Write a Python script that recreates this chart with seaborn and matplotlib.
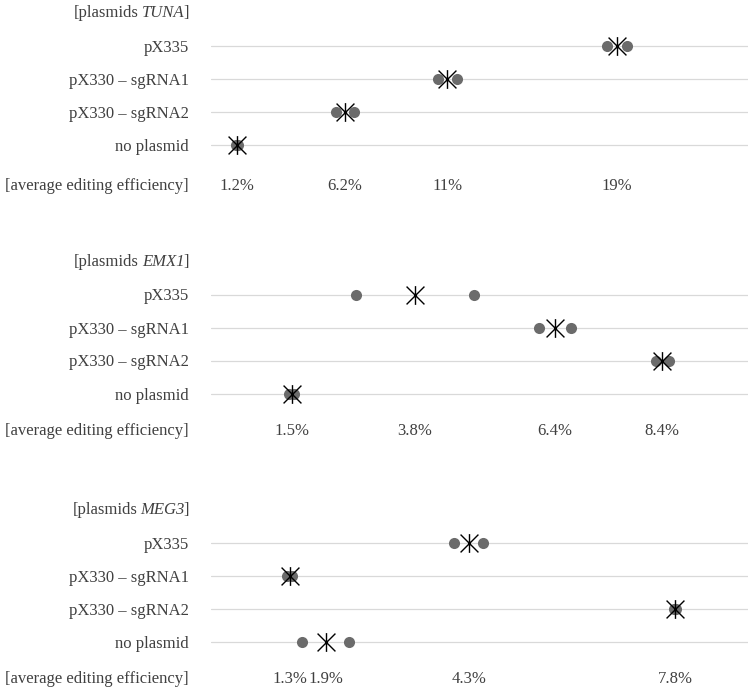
import numpy as np
import pandas as pd
import matplotlib
matplotlib.use("Agg")
import matplotlib.pyplot as plt
from matplotlib.path import Path
from matplotlib.markers import MarkerStyle
import seaborn as sns

# ---------------- data ----------------
rows = ["pX335", "pX330 – sgRNA1", "pX330 – sgRNA2", "no plasmid"]

panel_genes = ["TUNA", "EMX1", "MEG3"]

tuna_rep1 = [18.42, 10.58, 5.82, 1.18]
tuna_rep2 = [19.35, 11.44, 6.66, 1.24]
tuna_labels = ["19%", "11%", "6.2%", "1.2%"]

emx1_rep1 = [2.70, 6.10, 8.28, 1.45]
emx1_rep2 = [4.90, 6.70, 8.52, 1.55]
emx1_labels = ["3.8%", "6.4%", "8.4%", "1.5%"]

meg3_rep1 = [4.08, 1.28, 7.76, 1.53]
meg3_rep2 = [4.56, 1.36, 7.80, 2.32]
meg3_labels = ["4.3%", "1.3%", "7.8%", "1.9%"]

x_max = [25, 10, 9]

panel_rep1 = [tuna_rep1, emx1_rep1, meg3_rep1]
panel_rep2 = [tuna_rep2, emx1_rep2, meg3_rep2]
panel_labels = [tuna_labels, emx1_labels, meg3_labels]

# ---------------- style ----------------
sns.set_theme(style="white")
plt.rcParams["font.family"] = ["Liberation Serif", "DejaVu Serif"]

TEXT_COLOR = "#404040"
DOT_COLOR = "#6b6b6b"
GRID_COLOR = "#d9d9d9"
FS = 12

star = MarkerStyle(Path(
    [(-1, -1), (1, 1), (-1, 1), (1, -1), (0, -1.05), (0, 1.05)],
    [Path.MOVETO, Path.LINETO, Path.MOVETO, Path.LINETO, Path.MOVETO, Path.LINETO],
))

W, H = 750, 689
fig = plt.figure(figsize=(W / 100, H / 100), dpi=100)

left_px, right_px = 211, 748
row_sp = 33.0
ylim_top, ylim_bot = -1.4, 4.6
label_rows = [4.25, 4.15, 4.12]

for k in range(3):
    row0 = 46 + k * 248.5
    top_px = row0 + ylim_top * row_sp
    bot_px = row0 + ylim_bot * row_sp
    ax = fig.add_axes([left_px / W, 1 - bot_px / H,
                       (right_px - left_px) / W, (bot_px - top_px) / H])

    rep = pd.DataFrame({
        "row": rows * 2,
        "value": panel_rep1[k] + panel_rep2[k],
    })
    means = rep.groupby("row", sort=False)["value"].mean().reindex(rows).reset_index()

    sns.stripplot(data=rep, x="value", y="row", order=rows, jitter=False,
                  color=DOT_COLOR, size=8.0, linewidth=0, ax=ax, zorder=3)
    sns.stripplot(data=means, x="value", y="row", order=rows, jitter=False,
                  marker=star, size=13.5, color="black", edgecolor="black",
                  linewidth=1.0, ax=ax, zorder=4)

    ax.set_xlim(0, x_max[k])
    ax.set_ylim(ylim_bot, ylim_top)
    ax.set_xlabel("")
    ax.set_ylabel("")
    ax.set_xticks([])
    ax.yaxis.grid(True, color=GRID_COLOR, linewidth=0.9)
    ax.xaxis.grid(False)
    ax.set_axisbelow(True)
    for s in ax.spines.values():
        s.set_visible(False)
    ax.tick_params(axis="y", length=0, pad=15.8, labelsize=FS, labelcolor=TEXT_COLOR)

    xt = -(211 - 189) / (right_px - left_px)
    trans = ax.get_yaxis_transform()
    # title "[plasmids GENE]" with italic gene name, built right to left
    t_close = ax.text(xt, -1.0, "]", transform=trans, ha="right", va="center",
                      fontsize=FS, color=TEXT_COLOR)
    t_gene = ax.annotate(panel_genes[k], xy=(0, 0.5), xycoords=t_close,
                         xytext=(0.8, 0), textcoords="offset points",
                         ha="right", va="center", fontsize=FS, color=TEXT_COLOR,
                         fontstyle="italic")
    ax.annotate("[plasmids", xy=(0, 0.5), xycoords=t_gene,
                xytext=(-2.2, 0), textcoords="offset points",
                ha="right", va="center", fontsize=FS, color=TEXT_COLOR)

    ly = label_rows[k]
    ax.text(xt, ly, "[average editing efficiency]",
            transform=trans, ha="right", va="center", fontsize=FS, color=TEXT_COLOR)
    for v, lab in zip(means["value"], panel_labels[k]):
        ax.text(v, ly, lab, ha="center", va="center", fontsize=FS, color=TEXT_COLOR)

fig.savefig("out.png", dpi=100)
